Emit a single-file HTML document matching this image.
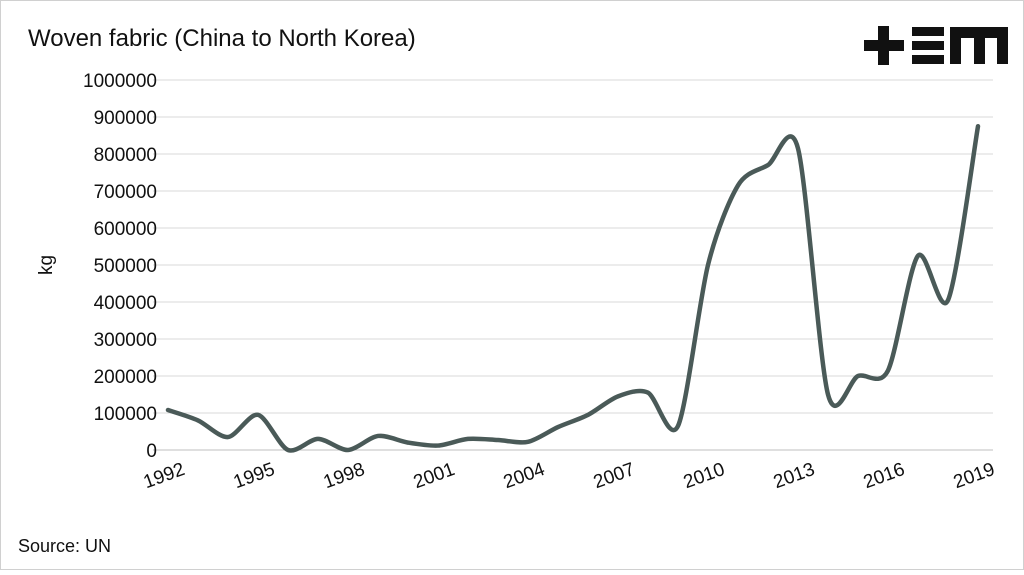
<!DOCTYPE html>
<html><head><meta charset="utf-8"><style>
html,body{margin:0;padding:0;background:#fff}
body{width:1024px;height:570px;overflow:hidden;font-family:"Liberation Sans",sans-serif}
</style></head><body>
<svg width="1024" height="570" viewBox="0 0 1024 570" xmlns="http://www.w3.org/2000/svg">
<rect x="0.5" y="0.5" width="1023" height="569" fill="#fff" stroke="#d0d0d0"/>
<text x="28" y="46" font-size="24" fill="#111">Woven fabric (China to North Korea)</text>
<g fill="#111">
<rect x="864" y="40" width="40" height="11"/><rect x="878" y="26" width="11" height="39"/>
<rect x="912" y="27" width="32" height="9"/><rect x="912" y="41" width="32" height="9"/><rect x="912" y="55" width="32" height="9"/>
<path d="M950 64 V27 H1008 V64 H997 V38 H985 V64 H974 V38 H961 V64 Z"/>
</g>
<g id="grid"></g>
<g id="ylabels"></g>
<g id="xlabels"></g>
<text transform="translate(52,265) rotate(-90)" text-anchor="middle" font-size="19" fill="#111">kg</text>
<path id="line" fill="none" stroke="#4a5a58" stroke-width="4.5" stroke-linejoin="round" stroke-linecap="round"/>
<text x="18" y="552" font-size="18" fill="#111">Source: UN</text>
</svg>
<script>
const years=[1992,1993,1994,1995,1996,1997,1998,1999,2000,2001,2002,2003,2004,2005,2006,2007,2008,2009,2010,2011,2012,2013,2014,2015,2016,2017,2018,2019];
const values=[108000,80000,35000,95000,0,30000,0,38000,20000,12000,30000,27000,22000,62000,95000,145000,155000,65000,500000,715000,770000,815000,150000,200000,215000,525000,405000,875000];
const yTicks=[0,100000,200000,300000,400000,500000,600000,700000,800000,900000,1000000];
const xTickLabels=["1992","1995","1998","2001","2004","2007","2010","2013","2016","2019"];
const NS="http://www.w3.org/2000/svg";
const pLeft=153,pRight=993,pTop=80,pBottom=450,yMax=1000000;
const bw=(pRight-pLeft)/years.length;
function xs(i){return pLeft+bw*(i+0.5);}
function ys(v){return pBottom-(v/yMax)*(pBottom-pTop);}
const grid=document.getElementById('grid'),yl=document.getElementById('ylabels'),xl=document.getElementById('xlabels');
yTicks.forEach(t=>{
 const l=document.createElementNS(NS,'line');
 
 
 l.setAttribute('x1',pLeft);l.setAttribute('x2',pRight);l.setAttribute('y1',ys(t));l.setAttribute('y2',ys(t));
 l.setAttribute('stroke',t===0?'#bfbfbf':'#d9d9d9');l.setAttribute('stroke-width','1');
 grid.appendChild(l);
 const tx=document.createElementNS(NS,'text');
 
 
 tx.setAttribute('x',157);tx.setAttribute('y',ys(t)+7);tx.setAttribute('text-anchor','end');
 tx.setAttribute('font-size','19');tx.setAttribute('fill','#111');tx.textContent=t;
 yl.appendChild(tx);
});
xTickLabels.forEach(lab=>{
 const i=years.indexOf(+lab);
 const tx=document.createElementNS(NS,'text');
 
 
 const x=xs(i)+18,y=474;
 tx.setAttribute('transform','translate('+x+','+y+') rotate(-20)');
 tx.setAttribute('text-anchor','end');tx.setAttribute('font-size','19');tx.setAttribute('fill','#111');
 tx.textContent=lab;xl.appendChild(tx);
});
const pts=values.map((v,i)=>[xs(i),ys(v)]);
let d='M'+pts[0][0]+' '+pts[0][1];
for(let i=0;i<pts.length-1;i++){
 const p0=pts[i-1]||pts[i],p1=pts[i],p2=pts[i+1],p3=pts[i+2]||p2;
 const c1=[p1[0]+(p2[0]-p0[0])/7,p1[1]+(p2[1]-p0[1])/7];
 const c2=[p2[0]-(p3[0]-p1[0])/7,p2[1]-(p3[1]-p1[1])/7];
 d+=' C'+c1[0]+' '+c1[1]+' '+c2[0]+' '+c2[1]+' '+p2[0]+' '+p2[1];
}
document.getElementById('line').setAttribute('d',d);
</script>
</body></html>
